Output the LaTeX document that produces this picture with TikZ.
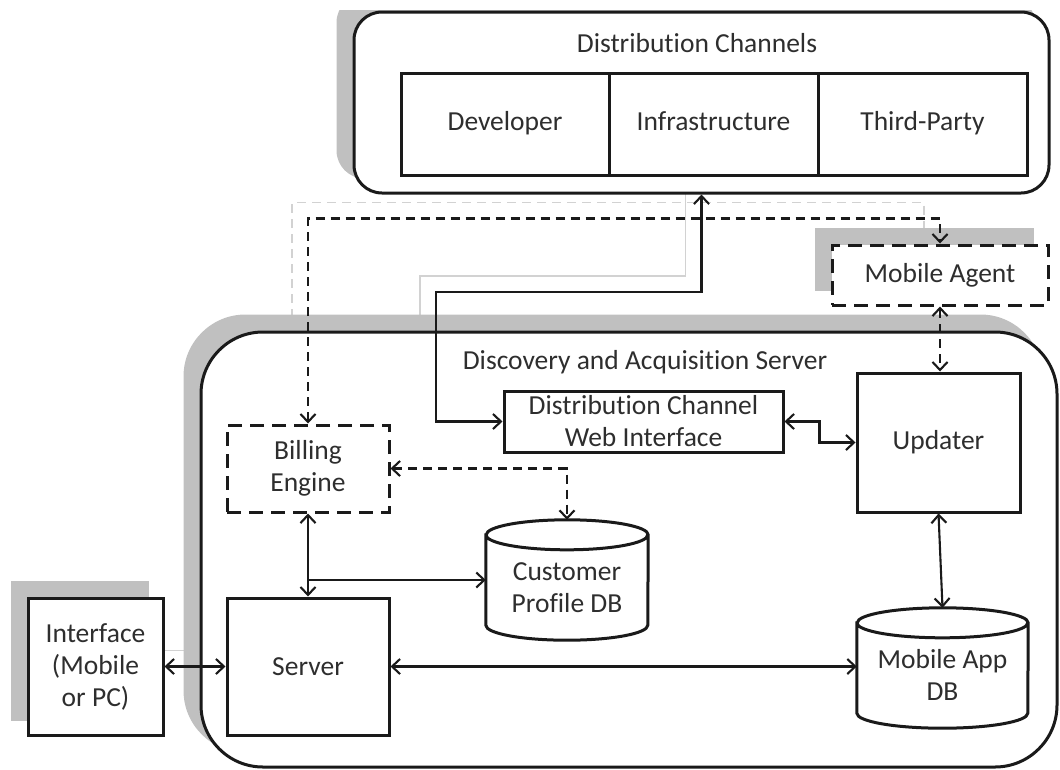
\documentclass[tikz,border=0pt]{standalone}
\usepackage{fontspec}
\setmainfont{Carlito}[Ligatures=NoCommon]
\usetikzlibrary{arrows.meta,calc}
\pgfdeclarelayer{lineshadow}
\pgfdeclarelayer{shapeshadow}
\pgfsetlayers{lineshadow,shapeshadow,main}
\definecolor{ink}{HTML}{1A1A1A}
\definecolor{txt}{HTML}{2E2E2E}
\definecolor{shadowgray}{HTML}{C0C0C0}
\definecolor{ghost}{HTML}{D2D2D2}
\tikzset{
  lbl/.style={text=txt, font=\fontsize{27.5}{32}\selectfont, align=center, inner sep=0pt},
  frame/.style={draw=ink, line width=3pt, fill=white, inner sep=0pt},
  box/.style={frame, lbl},
  cell/.style={box, minimum height=102pt, text height=19pt, text depth=6pt},
  dbox/.style={box, dash pattern=on 14pt off 8pt},
  dbframe/.style={inner sep=0pt, draw=none},
  cyl/.style={draw=ink, line width=3pt, fill=white},
  conn/.style={draw=ink, line width=2.1pt},
  dconn/.style={conn, dash pattern=on 9pt off 6pt},
  ghostline/.style={draw=ghost, line width=1.8pt},
  >={Straight Barb[length=8pt,width=15pt]},
  offshadow/.style={transform canvas={xshift=-16pt,yshift=16pt}}
}
\begin{document}
\begin{tikzpicture}[x=1pt,y=-1pt]
\useasboundingbox (0,0) rectangle (1060,769);

% outer containers
\node[frame, rounded corners=62pt, minimum width=856pt, minimum height=435pt] (das) at (629,549.5) {};
\node[lbl] (dastitle) at (645,362) {Discovery and Acquisition Server};
\node[frame, rounded corners=28pt, minimum width=695pt, minimum height=181pt] (dc) at (701.5,102.5) {};
\node[lbl] (dctitle) at (697,43) {Distribution Channels};

% distribution channel cells
\node[cell, minimum width=208pt] (dev) at (505,124) {Developer};
\node[cell, minimum width=209pt] (infra) at (713.5,124) {Infrastructure};
\node[cell, minimum width=209pt] (third) at (922.5,124) {Third-Party};

% components
\node[dbox, minimum width=216pt, minimum height=60pt] (ma) at (940,275) {Mobile Agent};
\node[box, minimum width=163pt, minimum height=139pt] (upd) at (938.5,442.5) {Updater};
\node[box, minimum width=279pt, minimum height=61pt] (dcwi) at (643.5,421.5) {Distribution Channel\\Web Interface};
\node[dbox, minimum width=162pt, minimum height=87pt] (bill) at (308,468.5) {Billing\\Engine};
\node[box, minimum width=162pt, minimum height=137pt] (srv) at (308,666.5) {Server};
\node[box, minimum width=135pt, minimum height=137pt] (ifc) at (95.5,666.5) {Interface\\(Mobile\\or PC)};

% databases
\node[dbframe, minimum width=162pt, minimum height=120pt] (cpdb) at (567,580) {};
\draw[cyl] ([yshift=-15pt]cpdb.north west) -- ([yshift=15pt]cpdb.south west)
  arc[start angle=180, end angle=360, x radius=81pt, y radius=15pt]
  -- ([yshift=-15pt]cpdb.north east)
  arc[start angle=0, end angle=180, x radius=81pt, y radius=15pt] -- cycle
  ([yshift=-15pt]cpdb.north west) arc[start angle=180, end angle=360, x radius=81pt, y radius=15pt]
  node[lbl] at ([yshift=-8pt]cpdb.center) {Customer\\Profile DB};

\node[dbframe, minimum width=171pt, minimum height=120pt] (madb) at (942.5,668) {};
\draw[cyl] ([yshift=-15pt]madb.north west) -- ([yshift=15pt]madb.south west)
  arc[start angle=180, end angle=360, x radius=85.5pt, y radius=15pt]
  -- ([yshift=-15pt]madb.north east)
  arc[start angle=0, end angle=180, x radius=85.5pt, y radius=15pt] -- cycle
  ([yshift=-15pt]madb.north west) arc[start angle=180, end angle=360, x radius=85.5pt, y radius=15pt]
  node[lbl] at ([yshift=-7pt]madb.center) {Mobile App\\DB};

% connectors
\draw[conn,<->] (dcwi.west) -| (436,292) -| (dc.south);
\draw[dconn,<->] (bill.north) |- ([yshift=25pt]ma.north) -- (ma.north);
\draw[dconn,<->] (ma.south) -- (ma.south |- upd.north);
\draw[conn,<->] (dcwi.east) -- ++(35,0) |- (upd.west);
\draw[dconn,<->] (bill.east) -| (cpdb.north);
\draw[conn,<->] (bill.south) -- (srv.north);
\draw[conn,->] (bill.south |- cpdb.west) -- (cpdb.west);
\draw[conn,<->] (srv.east) -- (srv.east -| madb.west);
\draw[conn,<->] (ifc.east) -- (srv.west);
\draw[conn,<->] (upd.south) -- (madb.north);

% offset shadows of the shapes
\begin{pgfonlayer}{shapeshadow}
  \begin{scope}[offshadow]
    \fill[shadowgray, rounded corners=62pt] (das.north west) rectangle (das.south east);
    \fill[shadowgray] (ma.north west) rectangle (ma.south east);
    \fill[shadowgray] (ifc.north west) rectangle (ifc.south east);
  \end{scope}
  \begin{scope}
    \clip (0,10) rectangle (1060,769);
    \begin{scope}[offshadow]
      \fill[shadowgray, rounded corners=28pt] (dc.north west) rectangle (dc.south east);
    \end{scope}
  \end{scope}
\end{pgfonlayer}

% offset shadows of the outer connectors
\begin{pgfonlayer}{lineshadow}
  \begin{scope}[offshadow]
    \draw[ghostline] (dcwi.west) -| (436,292) -| (dc.south);
    \draw[ghostline, dash pattern=on 9pt off 6pt] (bill.north) |- ([yshift=25pt]ma.north) -- (ma.north);
    \draw[ghostline] (ifc.east) -- (srv.west);
  \end{scope}
\end{pgfonlayer}
\end{tikzpicture}
\end{document}
